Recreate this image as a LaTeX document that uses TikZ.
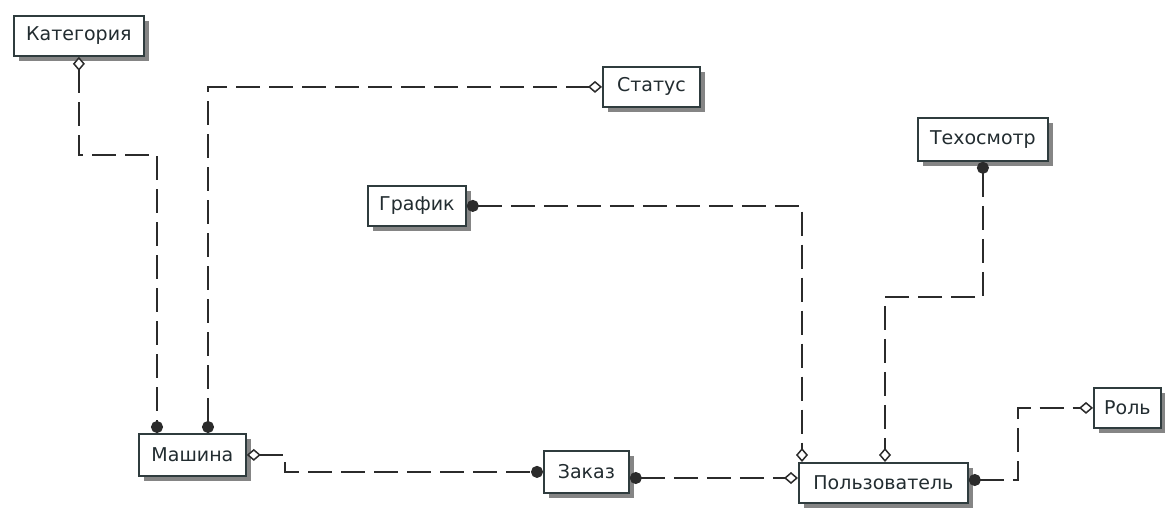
\documentclass[tikz,border=0pt]{standalone}
\usepackage{fontspec}
\setmainfont{DejaVu Sans}
\usetikzlibrary{arrows.meta,shadows}
\definecolor{boxline}{HTML}{2F3C3E}
\definecolor{textcol}{HTML}{222C30}
\definecolor{shadowcol}{HTML}{858585}
\definecolor{linecol}{HTML}{2B2B2B}
\begin{document}
\begin{tikzpicture}[x=1pt,y=-1pt,
  entity/.style={draw=boxline, line width=1.8pt, fill=white, anchor=north west,
    inner sep=0pt, text=textcol, font=\fontsize{19}{22}\selectfont,
    drop shadow={shadow xshift=5pt, shadow yshift=-5pt, fill=shadowcol, opacity=1}},
  rel/.style={draw=linecol, line width=2pt, dash pattern=on 24pt off 9pt},
  dia/.tip={Diamond[fill=white, length=14pt, width=12pt, line width=1.5pt]},
  dot/.tip={Circle[length=12pt]}]
\useasboundingbox (0,0) rectangle (1165,507);

% entities
\node[entity, minimum width=130pt, minimum height=40pt] (kat)  at (13,15)   {Категория};
\node[entity, minimum width=97pt,  minimum height=40pt] (stat) at (602,66)  {Статус};
\node[entity, minimum width=130pt, minimum height=43pt] (tech) at (917,117) {Техосмотр};
\node[entity, minimum width=98pt,  minimum height=40pt] (graf) at (367,185) {График};
\node[entity, minimum width=107pt, minimum height=42pt] (mash) at (138,433) {Машина};
\node[entity, minimum width=85pt,  minimum height=42pt] (zak)  at (543,450) {Заказ};
\node[entity, minimum width=169pt, minimum height=40pt] (polz) at (798,462) {Пользователь};
\node[entity, minimum width=67pt,  minimum height=40pt] (rol)  at (1093,387) {Роль};

% routing points
\coordinate (k1) at (157,155);
\coordinate (s1) at (208,0);
\coordinate (m1) at (285,0);
\coordinate (z1) at (0,478);
\coordinate (g1) at (802,0);
\coordinate (t1) at (0,297);
\coordinate (t2) at (885,0);
\coordinate (r1) at (1018,480);

% relationships
\draw[rel, dia-dot] (kat.south) |- (k1) -- (k1 |- mash.north);
\draw[rel, dia-dot] (stat.west) -| (s1 |- mash.north);
\draw[rel, dia-dot] (mash.east) -| (m1 |- zak.west) -- (zak.west);
\draw[rel, dot-dia] (zak.east |- z1) -- (polz.west |- z1);
\draw[rel, dot-dia] (graf.east) -| (g1 |- polz.north);
\draw[rel, dot-dia] (tech.south) -- (tech.south |- t1) -| (t2 |- polz.north);
\draw[rel, dot-dia] (polz.east |- r1) -- (r1) |- (rol.west);
\end{tikzpicture}
\end{document}
